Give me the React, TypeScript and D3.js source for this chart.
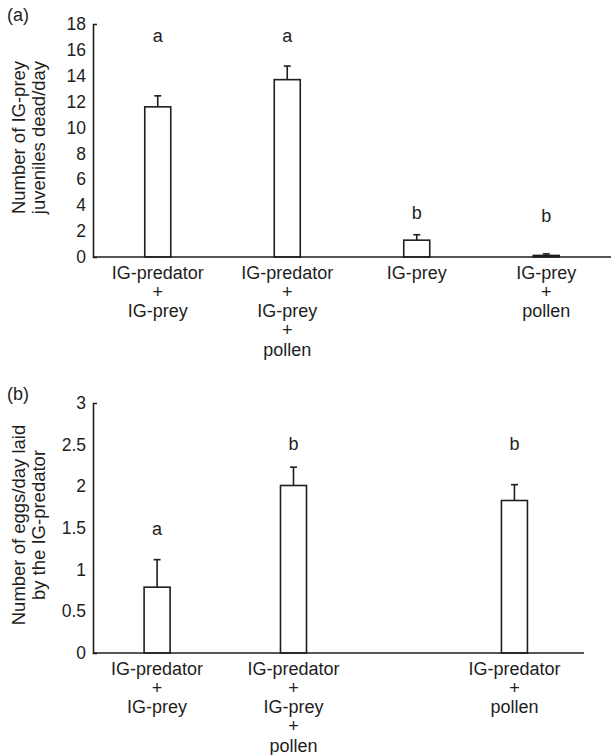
import { useEffect, useRef } from 'react';
import * as d3 from 'd3';

// panel (a): IG-prey juveniles dead per day
const treatmentsA = [
  ['IG-predator', '+', 'IG-prey'],
  ['IG-predator', '+', 'IG-prey', '+', 'pollen'],
  ['IG-prey'],
  ['IG-prey', '+', 'pollen'],
];
const slotsA = [0.5, 1.5, 2.5, 3.5];
const deadA = [11.6, 13.7, 1.3, 0.12];
const errA = [0.85, 1.05, 0.42, 0.12];
const lettersA = ['a', 'a', 'b', 'b'];
const letterPosA = [17.1, 17.1, 3.4, 3.2];
const ticksA = [0, 2, 4, 6, 8, 10, 12, 14, 16, 18];

// panel (b): eggs per day laid by IG-predator
const treatmentsB = [
  ['IG-predator', '+', 'IG-prey'],
  ['IG-predator', '+', 'IG-prey', '+', 'pollen'],
  ['IG-predator', '+', 'pollen'],
];
const slotsB = [0.47, 1.47, 3.09];
const eggsB = [0.79, 2.01, 1.83];
const errB = [0.33, 0.22, 0.19];
const lettersB = ['a', 'b', 'b'];
const letterPosB = [1.49, 2.51, 2.51];
const ticksB = [0, 0.5, 1, 1.5, 2, 2.5, 3];

const FONT = '"Liberation Sans", Arial, Helvetica, sans-serif';
const INK = '#1e1e1e';

const App = () => {
  const ref = useRef<SVGSVGElement>(null);

  useEffect(() => {
    const svg = d3.select(ref.current);
    svg.selectAll('*').remove();

    const drawPanel = (opt: any) => {
      const { top, bottom, left, right, xDomain, yMax, ticks, slots, values, errs, letters, letterPos, labels, yTitle, tag, tagY } = opt;
      const x = d3.scaleLinear().domain(xDomain).range([left, right]);
      const y = d3.scaleLinear().domain([0, yMax]).range([bottom, top]);
      const g = svg.append('g');
      const barW = 26;

      // bars
      g.selectAll('rect.bar').data(values).enter().append('rect')
        .attr('x', (d: number, i: number) => x(slots[i]) - barW / 2)
        .attr('y', (d: number) => y(d))
        .attr('width', barW)
        .attr('height', (d: number) => y(0) - y(d))
        .attr('fill', 'white')
        .attr('stroke', INK)
        .attr('stroke-width', 1.6);

      // error bars + letters
      values.forEach((v: number, i: number) => {
        const cx = x(slots[i]);
        g.append('line').attr('x1', cx).attr('x2', cx).attr('y1', y(v)).attr('y2', y(v + errs[i]))
          .attr('stroke', INK).attr('stroke-width', 1.6);
        g.append('line').attr('x1', cx - 3.5).attr('x2', cx + 3.5).attr('y1', y(v + errs[i])).attr('y2', y(v + errs[i]))
          .attr('stroke', INK).attr('stroke-width', 1.6);
        g.append('text').text(letters[i])
          .attr('x', cx).attr('y', y(letterPos[i]) + 6)
          .attr('text-anchor', 'middle')
          .style('font-family', FONT).style('font-size', '18px').attr('fill', INK);
      });

      // y axis
      const yAxis = d3.axisLeft(y).tickValues(ticks).tickSizeInner(0).tickSizeOuter(-4).tickPadding(7)
        .tickFormat((d: any) => String(d));
      const yG = g.append('g').attr('transform', `translate(${left},0)`).call(yAxis);
      yG.select('.domain').attr('stroke', INK).attr('stroke-width', 1.6);
      yG.selectAll('.tick text').style('font-family', FONT).style('font-size', '17.5px').attr('fill', INK);

      // x axis line
      g.append('line').attr('x1', x(xDomain[0])).attr('x2', x(xDomain[1]))
        .attr('y1', y(0)).attr('y2', y(0)).attr('stroke', INK).attr('stroke-width', 1.6);

      // category labels
      labels.forEach((lines: string[], i: number) => {
        const t = g.append('text').attr('text-anchor', 'middle')
          .style('font-family', FONT).style('font-size', '18px').attr('fill', INK);
        lines.forEach((ln, j) => {
          t.append('tspan').attr('x', x(slots[i])).attr('y', y(0) + 21.5 + j * 19.3).text(ln);
        });
      });

      // y title
      const yt = g.append('text').attr('text-anchor', 'middle')
        .attr('transform', `translate(0,${(top + bottom) / 2 - 3}) rotate(-90)`)
        .style('font-family', FONT).style('font-size', '18.5px').attr('fill', INK);
      yTitle.forEach((ln: string, j: number) => {
        yt.append('tspan').attr('x', 0).attr('y', 25 + j * 19.5).text(ln);
      });

      g.append('text').text(tag).attr('x', 7).attr('y', tagY)
        .style('font-family', FONT).style('font-size', '18px').attr('fill', INK);
    };

    drawPanel({
      top: 24, bottom: 257, left: 93, right: 611, xDomain: [0, 4], yMax: 18,
      ticks: ticksA, slots: slotsA, values: deadA, errs: errA, letters: lettersA, letterPos: letterPosA,
      labels: treatmentsA, yTitle: ['Number of IG-prey', 'juveniles dead/day'], tag: '(a)', tagY: 21,
    });
    drawPanel({
      top: 403, bottom: 653, left: 93, right: 584, xDomain: [0, 3.6], yMax: 3,
      ticks: ticksB, slots: slotsB, values: eggsB, errs: errB, letters: lettersB, letterPos: letterPosB,
      labels: treatmentsB, yTitle: ['Number of eggs/day laid', 'by the IG-predator'], tag: '(b)', tagY: 400,
    });
  }, []);

  return (
    <svg ref={ref} width={611} height={755}
      style={{ position: 'absolute', left: 0, top: 0, background: 'white', display: 'block' }} />
  );
};

export default App;
